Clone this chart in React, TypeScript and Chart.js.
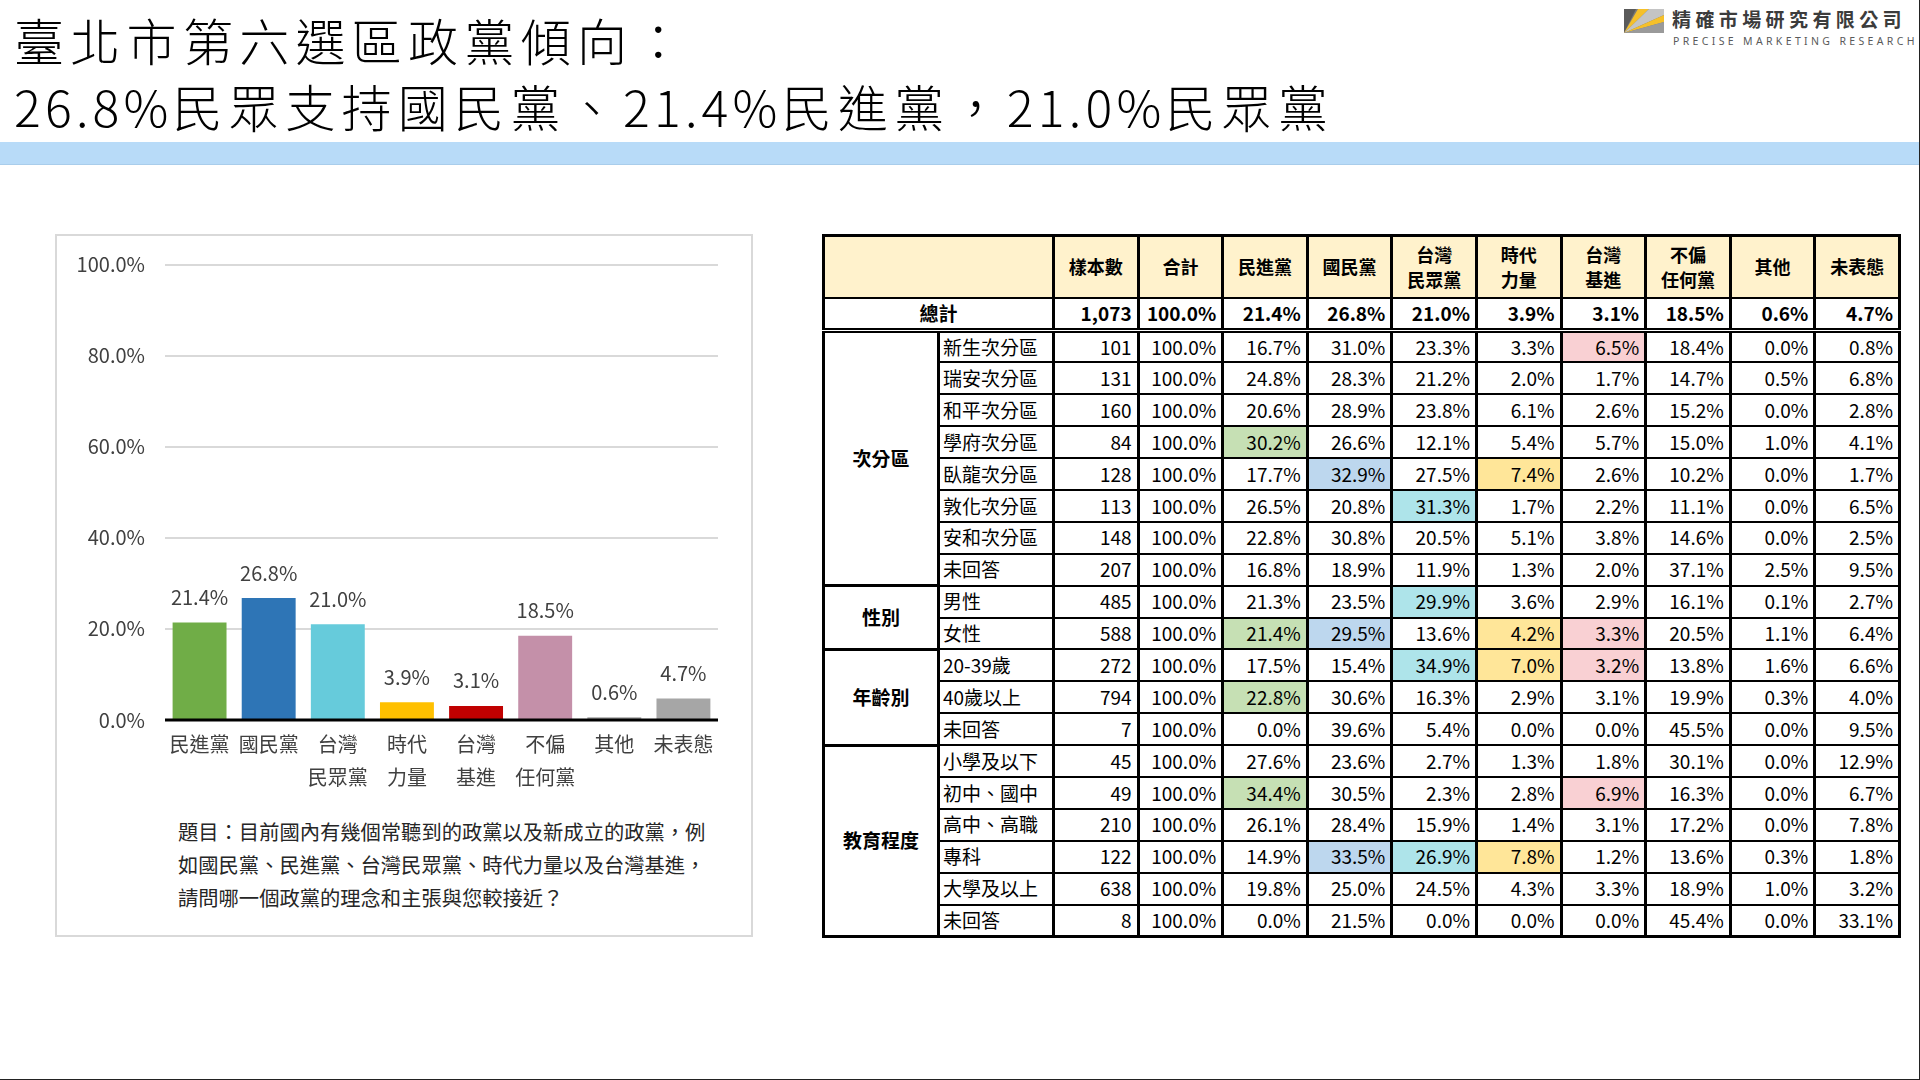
import React, { useEffect, useRef } from 'react';
import { Chart, registerables } from 'chart.js';

Chart.register(...registerables);

const FONT = "'Noto Sans CJK TC', 'Noto Sans', sans-serif";

// ---- bar chart data ----
const partyLabels: string[][] = [['民進黨'], ['國民黨'], ['台灣', '民眾黨'], ['時代', '力量'], ['台灣', '基進'], ['不偏', '任何黨'], ['其他'], ['未表態']];
const partyShares = [21.4, 26.8, 21.0, 3.9, 3.1, 18.5, 0.6, 4.7];
const partyColors = ['#70AD47', '#2E75B6', '#66CBDB', '#FFC000', '#C00000', '#C490A9', '#A6A6A6', '#A6A6A6'];
const yMax = 100;
const yStep = 20;

// ---- table data ----
const tableHeaders: string[][] = [['樣本數'], ['合計'], ['民進黨'], ['國民黨'], ['台灣', '民眾黨'], ['時代', '力量'], ['台灣', '基進'], ['不偏', '任何黨'], ['其他'], ['未表態']];
const totalSample = 1073;
const totalShares = [21.4, 26.8, 21.0, 3.9, 3.1, 18.5, 0.6, 4.7];

const districtRows: [string, number, number[]][] = [
  ['新生次分區', 101, [16.7, 31.0, 23.3, 3.3, 6.5, 18.4, 0.0, 0.8]],
  ['瑞安次分區', 131, [24.8, 28.3, 21.2, 2.0, 1.7, 14.7, 0.5, 6.8]],
  ['和平次分區', 160, [20.6, 28.9, 23.8, 6.1, 2.6, 15.2, 0.0, 2.8]],
  ['學府次分區', 84, [30.2, 26.6, 12.1, 5.4, 5.7, 15.0, 1.0, 4.1]],
  ['臥龍次分區', 128, [17.7, 32.9, 27.5, 7.4, 2.6, 10.2, 0.0, 1.7]],
  ['敦化次分區', 113, [26.5, 20.8, 31.3, 1.7, 2.2, 11.1, 0.0, 6.5]],
  ['安和次分區', 148, [22.8, 30.8, 20.5, 5.1, 3.8, 14.6, 0.0, 2.5]],
  ['未回答', 207, [16.8, 18.9, 11.9, 1.3, 2.0, 37.1, 2.5, 9.5]],
];
const genderRows: [string, number, number[]][] = [
  ['男性', 485, [21.3, 23.5, 29.9, 3.6, 2.9, 16.1, 0.1, 2.7]],
  ['女性', 588, [21.4, 29.5, 13.6, 4.2, 3.3, 20.5, 1.1, 6.4]],
];
const ageRows: [string, number, number[]][] = [
  ['20-39歲', 272, [17.5, 15.4, 34.9, 7.0, 3.2, 13.8, 1.6, 6.6]],
  ['40歲以上', 794, [22.8, 30.6, 16.3, 2.9, 3.1, 19.9, 0.3, 4.0]],
  ['未回答', 7, [0.0, 39.6, 5.4, 0.0, 0.0, 45.5, 0.0, 9.5]],
];
const eduRows: [string, number, number[]][] = [
  ['小學及以下', 45, [27.6, 23.6, 2.7, 1.3, 1.8, 30.1, 0.0, 12.9]],
  ['初中、國中', 49, [34.4, 30.5, 2.3, 2.8, 6.9, 16.3, 0.0, 6.7]],
  ['高中、高職', 210, [26.1, 28.4, 15.9, 1.4, 3.1, 17.2, 0.0, 7.8]],
  ['專科', 122, [14.9, 33.5, 26.9, 7.8, 1.2, 13.6, 0.3, 1.8]],
  ['大學及以上', 638, [19.8, 25.0, 24.5, 4.3, 3.3, 18.9, 1.0, 3.2]],
  ['未回答', 8, [0.0, 21.5, 0.0, 0.0, 0.0, 45.4, 0.0, 33.1]],
];
const tableGroups: [string, [string, number, number[]][]][] = [
  ['次分區', districtRows],
  ['性別', genderRows],
  ['年齡別', ageRows],
  ['教育程度', eduRows],
];

// highlight colors per party column
const hiColors = ['#C6E0B4', '#BDD7EE', '#AEE4EA', '#FFE699', '#F9D0D3'];
// [group, row label, party column index]
const highlights: [string, string, number][] = [
  ['次分區', '新生次分區', 4],
  ['次分區', '學府次分區', 0],
  ['次分區', '臥龍次分區', 1],
  ['次分區', '臥龍次分區', 3],
  ['次分區', '敦化次分區', 2],
  ['性別', '男性', 2],
  ['性別', '女性', 0],
  ['性別', '女性', 1],
  ['性別', '女性', 3],
  ['性別', '女性', 4],
  ['年齡別', '20-39歲', 2],
  ['年齡別', '20-39歲', 3],
  ['年齡別', '20-39歲', 4],
  ['年齡別', '40歲以上', 0],
  ['教育程度', '初中、國中', 0],
  ['教育程度', '初中、國中', 4],
  ['教育程度', '專科', 1],
  ['教育程度', '專科', 2],
  ['教育程度', '專科', 3],
];

const pct = (v: number) => v.toFixed(1) + '%';

const barExtras = {
  id: 'barExtras',
  afterDatasetsDraw(chart: any) {
    const { ctx, chartArea } = chart;
    const yScale = chart.scales.y;
    const y0 = yScale.getPixelForValue(0);
    ctx.save();
    ctx.strokeStyle = '#000';
    ctx.lineWidth = 3;
    ctx.beginPath();
    ctx.moveTo(chartArea.left, y0);
    ctx.lineTo(chartArea.right, y0);
    ctx.stroke();
    const meta = chart.getDatasetMeta(0);
    ctx.font = `20px ${FONT}`;
    ctx.fillStyle = '#404040';
    ctx.textAlign = 'center';
    ctx.textBaseline = 'middle';
    meta.data.forEach((el: any, i: number) => {
      const v = chart.data.datasets[0].data[i] as number;
      ctx.fillText(pct(v), el.x, el.y - 25);
    });
    ctx.restore();
  },
};

function BarChart() {
  const ref = useRef<HTMLCanvasElement | null>(null);
  useEffect(() => {
    if (!ref.current) return;
    const chart = new Chart(ref.current, {
      type: 'bar',
      data: {
        labels: partyLabels as any,
        datasets: [
          {
            data: partyShares,
            backgroundColor: partyColors,
            barPercentage: 0.78,
            categoryPercentage: 1,
          },
        ],
      },
      options: {
        animation: false,
        responsive: false,
        layout: { padding: { left: 0, right: 32, top: 24.5, bottom: 0 } },
        plugins: { legend: { display: false }, tooltip: { enabled: false } },
        scales: {
          x: {
            grid: { display: false, drawTicks: false },
            border: { display: false },
            ticks: {
              color: '#404040',
              font: { family: FONT, size: 20, lineHeight: 1.65 },
              padding: 8,
              maxRotation: 0,
              autoSkip: false,
            },
            afterFit: (s: any) => {
              s.height = 80;
            },
          },
          y: {
            min: 0,
            max: yMax,
            ticks: {
              stepSize: yStep,
              callback: (v: any) => Number(v).toFixed(1) + '%',
              color: '#404040',
              font: { family: FONT, size: 20 },
              padding: 0,
            },
            grid: {
              color: (c: any) => (c.tick && c.tick.value === 0 ? 'rgba(0,0,0,0)' : '#D9D9D9'),
              lineWidth: 2,
              drawTicks: true,
              tickLength: 20,
              tickColor: 'rgba(0,0,0,0)',
            },
            border: { display: false },
            afterFit: (s: any) => {
              s.width = 105;
            },
          },
        },
      },
      plugins: [barExtras],
    });
    return () => chart.destroy();
  }, []);
  return (
    <canvas
      ref={ref}
      width={690}
      height={560}
      style={{ position: 'absolute', left: 60, top: 240, width: 690, height: 560 }}
    />
  );
}

const VB = '3px solid #000';
const HB = '2px solid #000';

function cellStyle(extra: React.CSSProperties = {}): React.CSSProperties {
  return {
    borderLeft: VB,
    borderRight: VB,
    borderTop: HB,
    borderBottom: HB,
    padding: '0 5px',
    lineHeight: 1.2,
    whiteSpace: 'nowrap',
    overflow: 'hidden',
    ...extra,
  };
}

function DataTable() {
  const colW = [115, 115, ...tableHeaders.map(() => 84.6)];
  const hiFor = (g: string, label: string, ci: number) => {
    const h = highlights.find((x) => x[0] === g && x[1] === label && x[2] === ci);
    return h ? hiColors[ci] : undefined;
  };
  return (
    <table
      style={{
        position: 'absolute',
        left: 822,
        top: 234,
        width: 1076,
        borderCollapse: 'collapse',
        tableLayout: 'fixed',
        border: '3px solid #000',
        fontFamily: FONT,
        fontSize: 19,
        color: '#000',
      }}
    >
      <colgroup>
        {colW.map((w, i) => (
          <col key={i} style={{ width: w }} />
        ))}
      </colgroup>
      <tbody>
        <tr style={{ height: 62 }}>
          <td colSpan={2} style={cellStyle({ background: '#FFF2CC' })} />
          {tableHeaders.map((h, i) => (
            <td
              key={i}
              style={cellStyle({ background: '#FFF2CC', textAlign: 'center', fontWeight: 700, fontSize: 18, lineHeight: '25px' })}
            >
              {h.map((line, j) => (
                <div key={j}>{line}</div>
              ))}
            </td>
          ))}
        </tr>
        <tr style={{ height: 33 }}>
          <td colSpan={2} style={cellStyle({ textAlign: 'center', fontWeight: 700, borderBottom: '5px double #000' })}>
            總計
          </td>
          <td style={cellStyle({ textAlign: 'right', fontWeight: 700, borderBottom: '5px double #000' })}>
            {totalSample.toLocaleString('en-US')}
          </td>
          <td style={cellStyle({ textAlign: 'right', fontWeight: 700, borderBottom: '5px double #000' })}>100.0%</td>
          {totalShares.map((v, i) => (
            <td key={i} style={cellStyle({ textAlign: 'right', fontWeight: 700, borderBottom: '5px double #000' })}>
              {pct(v)}
            </td>
          ))}
        </tr>
        {tableGroups.map(([g, rows]) =>
          rows.map(([label, n, vals], ri) => (
            <tr key={g + label} style={{ height: 31.9 }}>
              {ri === 0 && (
                <td rowSpan={rows.length} style={cellStyle({ textAlign: 'center', fontWeight: 700, borderBottom: VB })}>
                  {g}
                </td>
              )}
              <td style={cellStyle({ textAlign: 'left', paddingLeft: 3 })}>{label}</td>
              <td style={cellStyle({ textAlign: 'right' })}>{n.toLocaleString('en-US')}</td>
              <td style={cellStyle({ textAlign: 'right' })}>100.0%</td>
              {vals.map((v, ci) => (
                <td key={ci} style={cellStyle({ textAlign: 'right', background: hiFor(g, label, ci) })}>
                  {pct(v)}
                </td>
              ))}
            </tr>
          ))
        )}
      </tbody>
    </table>
  );
}

const titleStyle: React.CSSProperties = {
  position: 'absolute',
  left: 14,
  fontSize: 50,
  fontWeight: 300,
  lineHeight: '60px',
  letterSpacing: 6.3,
  color: '#000',
  whiteSpace: 'nowrap',
};
const latin: React.CSSProperties = { letterSpacing: 4.2 };

export default function App() {
  return (
    <div
      style={{
        position: 'absolute',
        left: 0,
        top: 0,
        width: 1920,
        height: 1080,
        background: '#fff',
        overflow: 'hidden',
        boxSizing: 'border-box',
        borderRight: '1px solid #222',
        borderBottom: '1px solid #222',
        fontFamily: FONT,
      }}
    >
      <div style={{ ...titleStyle, top: 9 }}>臺北市第六選區政黨傾向：</div>
      <div style={{ ...titleStyle, top: 75 }}>
        <span style={latin}>26.8%</span>民眾支持國民黨、<span style={latin}>21.4%</span>民進黨，<span style={latin}>21.0%</span>民眾黨
      </div>

      <svg width="40" height="24" style={{ position: 'absolute', left: 1624, top: 9 }}>
        <rect x="0" y="0" width="40" height="24" fill="#7a7a7a" />
        <polygon points="0,24 0,0 12,0" fill="#5a5a5a" />
        <polygon points="0,24 14,0 25,0" fill="#F5C02A" />
        <polygon points="0,24 25,0 40,0 40,6" fill="#c4c4c4" />
        <polygon points="0,24 40,6 40,13" fill="#F5C02A" />
        <polygon points="0,24 40,13 40,24" fill="#9a9a9a" />
      </svg>
      <div style={{ position: 'absolute', left: 1672, top: 7, fontSize: 19, fontWeight: 700, letterSpacing: 4.4, color: '#3c3c3c', lineHeight: '24px', whiteSpace: 'nowrap' }}>
        精確市場研究有限公司
      </div>
      <div style={{ position: 'absolute', left: 1673, top: 34, fontSize: 10.5, letterSpacing: 3.35, color: '#5a5a5a', lineHeight: '14px', whiteSpace: 'nowrap', fontFamily: "'Noto Sans', sans-serif" }}>
        PRECISE MARKETING RESEARCH
      </div>

      <div style={{ position: 'absolute', left: 0, top: 142, width: 1920, height: 22, background: '#B8DBF8', borderBottom: '1px solid #A9CDEB' }} />

      <div style={{ position: 'absolute', left: 55, top: 234, width: 698, height: 703, boxSizing: 'border-box', border: '2px solid #D9D9D9' }} />
      <BarChart />
      <div style={{ position: 'absolute', left: 178, top: 815, fontSize: 20.3, lineHeight: '33px', color: '#262626', whiteSpace: 'nowrap' }}>
        題目：目前國內有幾個常聽到的政黨以及新成立的政黨，例
        <br />
        如國民黨、民進黨、台灣民眾黨、時代力量以及台灣基進，
        <br />
        請問哪一個政黨的理念和主張與您較接近？
      </div>

      <DataTable />
    </div>
  );
}
